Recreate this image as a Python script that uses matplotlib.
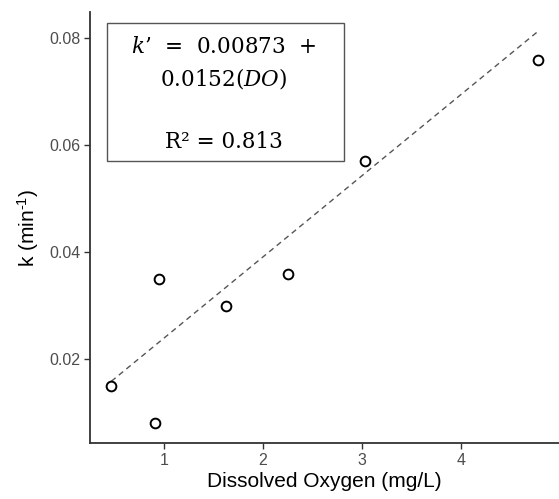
import matplotlib
matplotlib.use("Agg")
import matplotlib.pyplot as plt
from matplotlib.patches import Rectangle
import numpy as np

# Data
do_values = [0.47, 0.91, 0.95, 1.63, 2.25, 3.03, 4.77]
k_values = [0.015, 0.008, 0.035, 0.030, 0.036, 0.057, 0.076]
intercept = 0.00873
slope = 0.0152
r_squared = 0.813
x_ticks = [1, 2, 3, 4]
y_ticks = [0.02, 0.04, 0.06, 0.08]
y_tick_labels = ["0.02", "0.04", "0.06", "0.08"]

plt.rcParams['font.family'] = ['Liberation Sans', 'DejaVu Sans']
plt.rcParams['mathtext.fontset'] = 'custom'
plt.rcParams['mathtext.rm'] = 'Liberation Sans'
plt.rcParams['mathtext.it'] = 'DejaVu Serif:italic'

W, H = 559, 499
fig = plt.figure(figsize=(W / 100, H / 100), dpi=100)
ax = fig.add_axes([90 / W, 1 - 443 / H, 1 - 90 / W, (443 - 12) / H])


def fx(px):
    return px / W


def fy(py):
    return 1 - py / H


xfit = np.array([min(do_values), max(do_values)])
yfit = intercept + slope * xfit
ax.plot(xfit, yfit, linestyle=(0, (4, 3)), color='#555555', linewidth=1.0, zorder=1)

ax.plot(do_values, k_values, linestyle='none', marker='o', markersize=7,
        markerfacecolor='white', markeredgecolor='black', markeredgewidth=1.4, zorder=2)

ax.set_xlim(0.255, 4.985)
ax.set_ylim(0.00434, 0.0849)
ax.set_xticks(x_ticks)
ax.set_xticklabels([str(t) for t in x_ticks])
ax.set_yticks(y_ticks)
ax.set_yticklabels(y_tick_labels)

for s in ['top', 'right']:
    ax.spines[s].set_visible(False)
for s in ['left', 'bottom']:
    ax.spines[s].set_color('#333333')
    ax.spines[s].set_linewidth(1.3)

ax.tick_params(axis='both', which='major', length=4, width=1, color='#333333',
               labelcolor='#4D4D4D', labelsize=11.5, pad=3)

ax.set_xlabel('Dissolved Oxygen (mg/L)', fontsize=15, labelpad=3)
ax.set_ylabel(r'k (min$^{\mathrm{\text{-}1}}$)', fontsize=15, labelpad=6)

# Equation box
fig.patches.append(Rectangle((fx(107), fy(161)), fx(344) - fx(107), fy(23) - fy(161),
                             transform=fig.transFigure, facecolor='white',
                             edgecolor='#555555', linewidth=1.0, zorder=3))
serif = ['DejaVu Serif']
line1 = "$k$\u2019  =  " + f"{intercept:.5f}" + "  +"
line2 = f"{slope:.4f}" + "($DO$)"
line4 = "R\u00b2 = " + f"{r_squared:.3f}"
for txt, yb in [(line1, 53), (line2, 85), (line4, 148)]:
    fig.text(fx(224), fy(yb), txt, ha='center', va='baseline', fontsize=15.5,
             family=serif, zorder=4)

fig.savefig('out.png', dpi=100)
